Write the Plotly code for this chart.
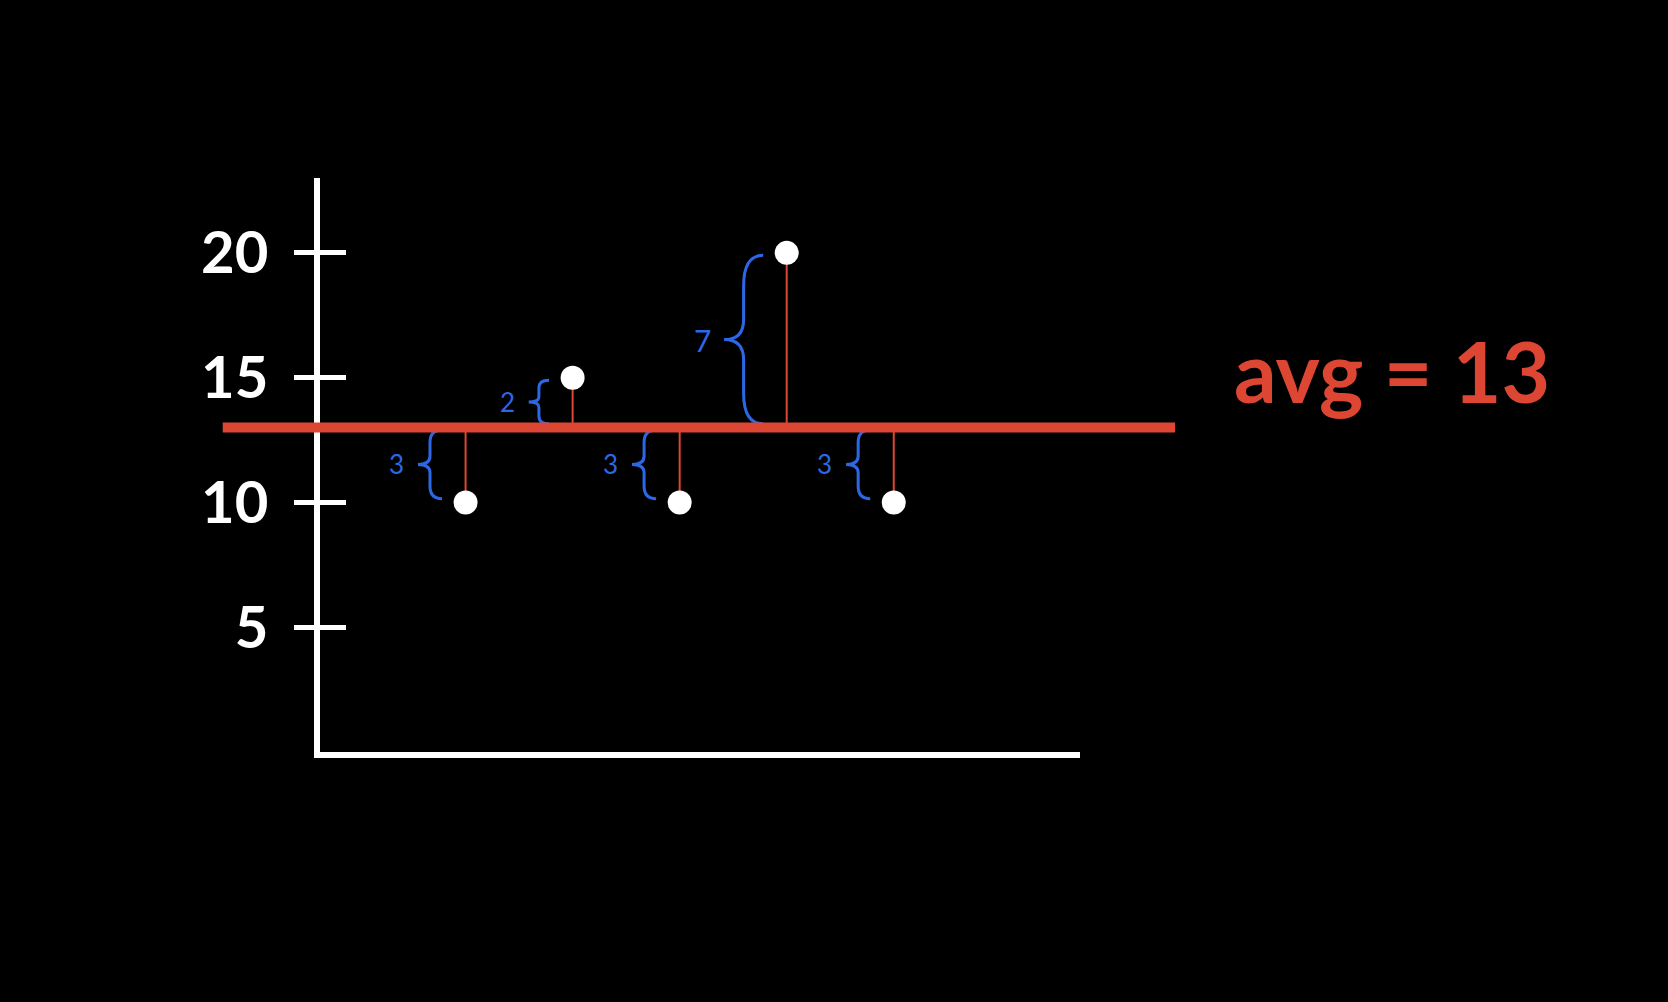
import plotly.graph_objects as go

# sketch data: five observations and their mean
values = [10, 15, 10, 20, 10]
positions = [1, 2, 3, 4, 5]
y_ticks = [5, 10, 15, 20]

avg = sum(values) / len(values)
devs = [abs(v - avg) for v in values]

RED = "#DC4632"
BLUE = "#2C68E6"
FONT = "Lato"

fig = go.Figure()

# thin red stems from each point to the average
stem_x, stem_y = [], []
for x, v in zip(positions, values):
    stem_x += [x, x, None]
    stem_y += [v, avg, None]
fig.add_trace(go.Scatter(x=stem_x, y=stem_y, mode="lines",
                         line=dict(color=RED, width=2), hoverinfo="skip"))

fig.add_trace(go.Scatter(x=positions, y=values, mode="markers",
                         marker=dict(color="white", size=24, line=dict(width=0))))

# invisible copy on y2 so the inner half of the ticks gets drawn
fig.add_trace(go.Scatter(x=positions, y=values, yaxis="y2", mode="markers",
                         marker=dict(opacity=0), hoverinfo="skip"))

# blue curly braces + distance labels
shapes = []
annotations = []
for x, v, d in zip(positions, values, devs):
    lo, hi = min(v, avg) + 0.15, max(v, avg) - 0.1
    mid = (lo + hi) / 2
    h = hi - lo
    w = 0.12 + 0.035 * d
    xr = x - 0.22
    xm = xr - w / 2
    xt = xr - w
    path = (f"M {xr},{hi} Q {xm},{hi} {xm},{hi - h * 0.18} "
            f"L {xm},{mid + h * 0.12} Q {xm},{mid} {xt},{mid} "
            f"Q {xm},{mid} {xm},{mid - h * 0.12} "
            f"L {xm},{lo + h * 0.18} Q {xm},{lo} {xr},{lo}")
    shapes.append(dict(type="path", xref="x", yref="y", path=path,
                       line=dict(color=BLUE, width=3)))
    annotations.append(dict(x=xt - 0.2, y=mid, xref="x", yref="y",
                            text=f"{d:g}", showarrow=False,
                            font=dict(family=FONT, size=30 if d > 5 else 26,
                                      color=BLUE)))

# the average line, running past both axes
shapes.append(dict(type="line", xref="paper", yref="y", x0=-0.128, x1=1.125,
                   y0=avg, y1=avg, line=dict(color=RED, width=10), layer="above"))

annotations.append(dict(x=1.2, y=avg + 2.3, xref="paper", yref="y",
                        xanchor="left", yanchor="middle", showarrow=False,
                        text=f"avg = {avg:g}",
                        font=dict(family=FONT, size=84, color=RED, weight="bold")))

fig.update_layout(
    width=1668, height=1002,
    paper_bgcolor="black", plot_bgcolor="black",
    margin=dict(l=320, r=588, t=178, b=250),
    showlegend=False,
    shapes=shapes,
    annotations=annotations,
    xaxis=dict(range=[-0.36, 6.74], showgrid=False, zeroline=False,
               showticklabels=False, ticks="", showline=True,
               linecolor="white", linewidth=6),
    yaxis=dict(range=[0, 23], showgrid=False, zeroline=False,
               tickvals=y_ticks, ticks="outside", ticklen=20, tickwidth=5,
               tickcolor="white", ticklabelstandoff=14,
               tickfont=dict(family=FONT, size=58, color="white", weight="bold"),
               showline=True, linecolor="white", linewidth=6),
    yaxis2=dict(range=[0, 23], overlaying="y", side="left", showgrid=False,
                zeroline=False, tickvals=y_ticks, ticks="inside", ticklen=26,
                tickwidth=5, tickcolor="white", showticklabels=False,
                showline=False),
)

fig.write_html("out.html", config={"displayModeBar": False},
               post_script="document.body.style.margin='0';"
                           "document.body.style.background='black';")
